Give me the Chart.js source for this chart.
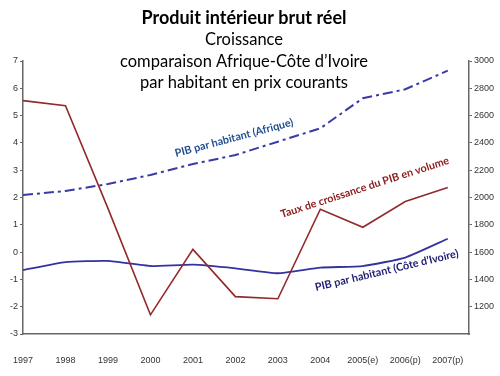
<!DOCTYPE html>
<html>
<head>
<meta charset="utf-8">
<script src="https://cdn.jsdelivr.net/npm/chart.js@4.4.0/dist/chart.umd.min.js"></script>
<style>
  html, body { margin: 0; padding: 0; background: #fff; }
  #wrap { width: 500px; height: 376px; }
</style>
</head>
<body>
<div id="wrap"><canvas id="pibChart" width="500" height="376"></canvas></div>
<script>
// Data
const years = ['1997', '1998', '1999', '2000', '2001', '2002', '2003', '2004', '2005(e)', '2006(p)', '2007(p)'];
const growthRate = [5.55, 5.36, 1.6, -2.3, 0.1, -1.63, -1.71, 1.57, 0.91, 1.85, 2.37];      // % (left axis)
const gdpAfrica = [2018, 2048, 2099, 2165, 2245, 2311, 2409, 2507, 2727, 2793, 2929];       // right axis
const gdpIvoryCoast = [1469, 1527, 1535, 1498, 1508, 1481, 1445, 1486, 1498, 1560, 1698];   // right axis
const leftTicks = [-3, -2, -1, 0, 1, 2, 3, 4, 5, 6, 7];
const rightTicks = [1200, 1400, 1600, 1800, 2000, 2200, 2400, 2600, 2800, 3000];

const titleLines = [
  { text: 'Produit intérieur brut réel', bold: true },
  { text: 'Croissance', bold: false },
  { text: 'comparaison Afrique-Côte d’Ivoire', bold: false },
  { text: 'par habitant en prix courants', bold: false }
];

const toPoints = vals => vals.map((v, i) => ({ x: i, y: v }));

// titles + rotated series labels drawn on top of the plot
const overlayText = {
  id: 'overlayText',
  afterDraw(chart) {
    const ctx = chart.ctx;
    ctx.save();
    ctx.fillStyle = '#000';
    ctx.textAlign = 'center';
    ctx.textBaseline = 'middle';
    titleLines.forEach((l, i) => {
      ctx.font = (l.bold ? 'bold 18px' : '16.5px') + ' Lato, "Noto Sans", sans-serif';
      ctx.fillText(l.text, 244, 18 + i * 21.7);
    });

    const labels = [
      { text: 'PIB par habitant (Afrique)', x: 176, y: 157, a: -15, c: '#1f4f8f' },
      { text: 'Taux de croissance du PIB en volume', x: 282, y: 218, a: -18, c: '#8b1c1c' },
      { text: 'PIB par habitant (Côte d’Ivoire)', x: 316, y: 291, a: -13.5, c: '#1c1c70' }
    ];
    ctx.textAlign = 'left';
    ctx.textBaseline = 'alphabetic';
    labels.forEach(l => {
      ctx.save();
      ctx.translate(l.x, l.y);
      ctx.rotate(l.a * Math.PI / 180);
      ctx.fillStyle = l.c;
      ctx.font = 'bold 10.8px Lato, "Noto Sans", sans-serif';
      ctx.fillText(l.text, 0, 0);
      ctx.restore();
    });
    ctx.restore();
  }
};

const axisColor = '#666';
const tickFont = { family: '"Liberation Sans", Arial, sans-serif', size: 9 };

new Chart(document.getElementById('pibChart').getContext('2d'), {
  type: 'line',
  data: {
    datasets: [
      {
        label: 'Taux de croissance du PIB en volume',
        data: toPoints(growthRate),
        yAxisID: 'yLeft',
        borderColor: '#93292b',
        borderWidth: 1.6,
        pointRadius: 0,
        tension: 0
      },
      {
        label: 'PIB par habitant (Afrique)',
        data: toPoints(gdpAfrica),
        yAxisID: 'yRight',
        borderColor: '#3a3aa6',
        borderWidth: 2,
        borderDash: [10, 4, 3, 4],
        pointRadius: 0,
        tension: 0
      },
      {
        label: 'PIB par habitant (Côte d’Ivoire)',
        data: toPoints(gdpIvoryCoast),
        yAxisID: 'yRight',
        borderColor: '#3333a0',
        borderWidth: 1.8,
        pointRadius: 0,
        tension: 0.15
      }
    ]
  },
  options: {
    responsive: false,
    animation: false,
    layout: { padding: { top: 61, left: 0, right: 0, bottom: 0 } },
    plugins: {
      legend: { display: false },
      title: { display: false },
      tooltip: { enabled: false }
    },
    scales: {
      x: {
        type: 'linear',
        min: 0,
        max: 10.5,
        afterFit: axis => { axis.height = 42; },
        afterBuildTicks: axis => { axis.ticks = years.map((y, i) => ({ value: i })); },
        ticks: {
          callback: v => years[v] || '',
          color: '#333',
          font: tickFont,
          padding: 13,
          maxRotation: 0,
          autoSkip: false
        },
        grid: { display: false },
        border: { display: true, color: axisColor, width: 1.5 }
      },
      yLeft: {
        position: 'left',
        min: -3,
        max: 7,
        afterFit: axis => { axis.width = 16; },
        afterBuildTicks: axis => { axis.ticks = leftTicks.map(v => ({ value: v })); },
        ticks: { color: '#333', font: tickFont, padding: 2, callback: v => String(v) },
        grid: { drawOnChartArea: false, drawTicks: true, tickLength: 3, color: axisColor },
        border: { display: true, color: axisColor, width: 1.5 }
      },
      yRight: {
        position: 'right',
        min: 1000,
        max: 3000,
        afterFit: axis => { axis.width = 31; },
        afterBuildTicks: axis => { axis.ticks = rightTicks.map(v => ({ value: v })); },
        ticks: { color: '#333', font: tickFont, padding: 2, callback: v => String(v) },
        grid: { drawOnChartArea: false, drawTicks: true, tickLength: 3, color: axisColor },
        border: { display: true, color: axisColor, width: 1.5 }
      }
    }
  },
  plugins: [overlayText]
});
</script>
</body>
</html>
